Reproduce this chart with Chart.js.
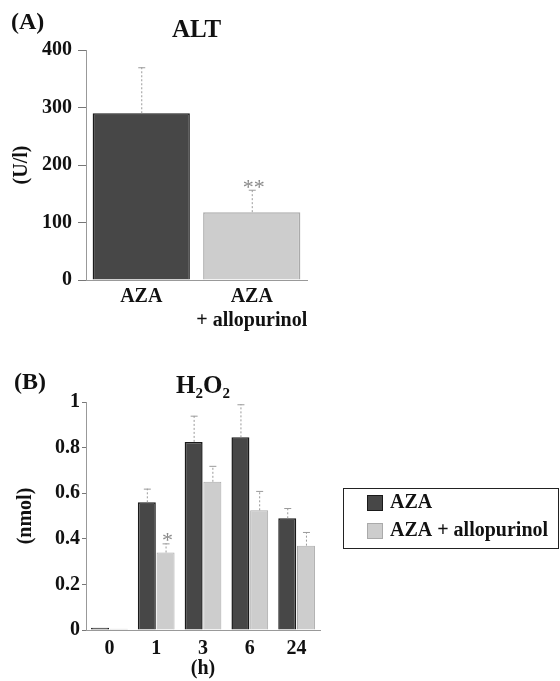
<!DOCTYPE html>
<html>
<head>
<meta charset="utf-8">
<script src="https://cdn.jsdelivr.net/npm/chart.js@4.4.1/dist/chart.umd.min.js"></script>
<style>
    html, body { margin: 0; padding: 0; background: #fff; }
    body { width: 560px; height: 681px; position: relative; overflow: hidden; }
    canvas { position: absolute; left: 0; }
    #altChart { top: 0; }
    #h2o2Chart { top: 340px; }
</style>
</head>
<body>
<canvas id="altChart" width="370" height="340"></canvas>
<canvas id="h2o2Chart" width="560" height="341"></canvas>
<script>
"use strict";

// (A) ALT
let altLabels = [['AZA', ''], ['AZA', '+ allopurinol']];
let altValues = [290, 118];
let altErrors = [80, 39];
let altStars = ['', '**'];

// (B) H2O2
let hourLabels = ['0', '1', '3', '6', '24'];
let seriesNames = ['AZA', 'AZA + allopurinol'];
let azaValues = [0.01, 0.56, 0.825, 0.845, 0.49];
let azaErrors = [0, 0.06, 0.115, 0.145, 0.045];
let alloValues = [0.005, 0.34, 0.65, 0.525, 0.37];
let alloErrors = [0, 0.04, 0.07, 0.085, 0.06];
let alloStars = ['', '*', '', '', ''];

let serif = '"Liberation Serif", "Times New Roman", serif';
let darkFill = '#474747';
let darkEdge = '#1a1a1a';
let lightFill = '#cdcdcd';
let lightEdge = '#aaaaaa';
let ink = '#111';

Chart.defaults.font.family = serif;
Chart.defaults.color = ink;

/********************************************************/
// upper error whiskers and significance marks
let errorBarPlugin = {
    id: 'errorBars',
    afterDatasetsDraw(chart) {
        let ctx = chart.ctx;
        let yScale = chart.scales.y;
        chart.data.datasets.forEach((ds, i) => {
            let meta = chart.getDatasetMeta(i);
            meta.data.forEach((bar, j) => {
                let err = ds.errors ? ds.errors[j] : 0;
                let top = yScale.getPixelForValue(ds.data[j] + err);
                ctx.save();
                if (err > 0) {
                    ctx.strokeStyle = '#9a9a9a';
                    ctx.lineWidth = 1;
                    ctx.setLineDash([2, 2]);
                    ctx.beginPath();
                    ctx.moveTo(bar.x + 0.5, bar.y);
                    ctx.lineTo(bar.x + 0.5, top);
                    ctx.stroke();
                    ctx.setLineDash([]);
                    ctx.beginPath();
                    ctx.moveTo(bar.x - 3, top + 0.5);
                    ctx.lineTo(bar.x + 4, top + 0.5);
                    ctx.stroke();
                }
                let star = ds.stars ? ds.stars[j] : '';
                if (star) {
                    ctx.fillStyle = '#8a8a8a';
                    ctx.font = '22px ' + serif;
                    ctx.textAlign = 'center';
                    ctx.textBaseline = 'alphabetic';
                    ctx.fillText(star, bar.x + 2, top + 4);
                }
                ctx.restore();
            });
        });
    }
};

function panelLabel(text, x, y) {
    return {
        id: 'panelLabel',
        afterDraw(chart) {
            let ctx = chart.ctx;
            ctx.save();
            ctx.font = 'bold 24px ' + serif;
            ctx.fillStyle = ink;
            ctx.textBaseline = 'middle';
            ctx.fillText(text, x, y);
            ctx.restore();
        }
    };
}

// boxed legend to the right of the plot
let boxLegendPlugin = {
    id: 'boxLegend',
    afterDraw(chart) {
        let ctx = chart.ctx;
        let area = chart.chartArea;
        let left = area.right + 23;
        let top = (area.top + area.bottom) / 2 - 28;
        ctx.save();
        ctx.strokeStyle = '#222';
        ctx.lineWidth = 1;
        ctx.strokeRect(left + 0.5, top + 0.5, 215, 60);
        ctx.font = 'bold 20px ' + serif;
        ctx.textBaseline = 'middle';
        chart.data.datasets.forEach((ds, i) => {
            let cy = top + 15 + i * 28;
            ctx.fillStyle = ds.backgroundColor;
            ctx.fillRect(left + 24, cy - 8, 16, 16);
            ctx.strokeStyle = ds.borderColor;
            ctx.strokeRect(left + 24.5, cy - 7.5, 15, 15);
            ctx.fillStyle = ink;
            ctx.fillText(ds.label, left + 47, cy);
        });
        ctx.restore();
    }
};

function yAxis(max, step, tickLength, pad, title, titlePad) {
    return {
        min: 0,
        max: max,
        ticks: {
            stepSize: step,
            padding: pad,
            color: ink,
            font: { size: 20, weight: 'bold' },
            callback: (v) => String(+v.toFixed(1))
        },
        grid: { drawOnChartArea: false, tickLength: tickLength, color: '#777' },
        border: { color: '#999', dash: [2, 2] },
        title: { display: true, text: title, color: ink, font: { size: 20, weight: 'bold' }, padding: { top: titlePad, bottom: 0 } },
        afterFit: (s) => { s.width = 86; }
    };
}

function chartTitle(text, padTop, padBottom) {
    return {
        display: true,
        text: text,
        fullSize: false,
        color: ink,
        font: { size: 25, weight: 'bold' },
        padding: { top: padTop, bottom: padBottom }
    };
}

/********************************************************/
new Chart(document.getElementById('altChart'), {
    type: 'bar',
    data: {
        labels: altLabels,
        datasets: [{
            label: 'ALT',
            data: altValues,
            errors: altErrors,
            stars: altStars,
            backgroundColor: [darkFill, lightFill],
            borderColor: [darkEdge, lightEdge],
            borderWidth: 1.5,
            barPercentage: 0.88,
            categoryPercentage: 1
        }]
    },
    options: {
        responsive: false,
        animation: false,
        layout: { padding: { right: 63 } },
        plugins: {
            legend: { display: false },
            tooltip: { enabled: false },
            title: chartTitle('ALT', 16, 4)
        },
        scales: {
            x: {
                grid: { display: false, drawTicks: false },
                border: { color: '#999', dash: [2, 2] },
                ticks: { padding: 5, color: ink, maxRotation: 0, autoSkip: false, font: { size: 20, weight: 'bold' } },
                afterFit: (s) => { s.height = 60; }
            },
            y: yAxis(400, 100, 8, 6, '(U/l)', 10)
        }
    },
    plugins: [errorBarPlugin, panelLabel('(A)', 11, 23)]
});

new Chart(document.getElementById('h2o2Chart'), {
    type: 'bar',
    data: {
        labels: hourLabels,
        datasets: [{
            label: seriesNames[0],
            data: azaValues,
            errors: azaErrors,
            backgroundColor: darkFill,
            borderColor: darkEdge,
            borderWidth: 1.5,
            barPercentage: 0.96,
            categoryPercentage: 0.8
        }, {
            label: seriesNames[1],
            data: alloValues,
            errors: alloErrors,
            stars: alloStars,
            backgroundColor: lightFill,
            borderColor: lightEdge,
            borderWidth: 1,
            barPercentage: 0.96,
            categoryPercentage: 0.8
        }]
    },
    options: {
        responsive: false,
        animation: false,
        layout: { padding: { right: 240 } },
        plugins: {
            legend: { display: false },
            tooltip: { enabled: false },
            title: chartTitle('H\u2082O\u2082', 32, 0)
        },
        scales: {
            x: {
                grid: { display: false, drawTicks: false },
                border: { color: '#999', dash: [2, 2] },
                ticks: { padding: 7, color: ink, maxRotation: 0, autoSkip: false, font: { size: 20, weight: 'bold' } },
                title: { display: true, text: '(h)', color: ink, font: { size: 20, weight: 'bold' }, padding: { top: 0, bottom: 0 } },
                afterFit: (s) => { s.height = 51; }
            },
            y: yAxis(1, 0.2, 4, 2, '(nmol)', 14)
        }
    },
    plugins: [errorBarPlugin, boxLegendPlugin, panelLabel('(B)', 14, 43)]
});
</script>
</body>
</html>
